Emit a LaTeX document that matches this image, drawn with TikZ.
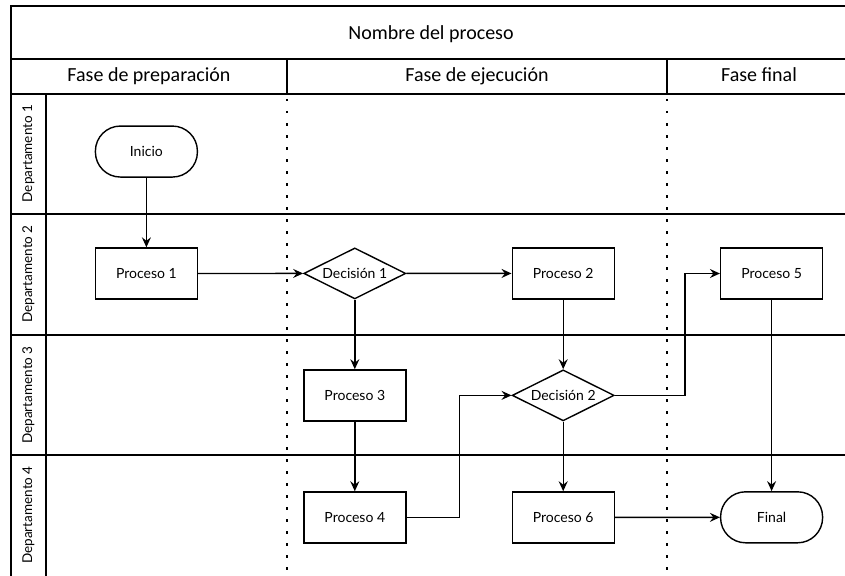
\documentclass[tikz,border=0pt]{standalone}
\usepackage{fontspec}
\setmainfont{Lato}
\newfontfamily\encabezado{Carlito}
\usetikzlibrary{matrix,shapes.geometric,arrows.meta}
\tikzset{
  proc/.style={draw, line width=1.4pt, minimum width=102pt, minimum height=51pt, inner sep=0pt, font=\fontsize{14}{16}\selectfont},
  term/.style={proc, rounded corners=25pt},
  dec/.style={proc, diamond, aspect=2},
  flecha/.style={-{Stealth[length=10pt,width=9pt,inset=3.5pt]}, line width=1.4pt},
  carril/.style={line width=1.4pt},
  fase/.style={font=\encabezado\fontsize{20}{24}\selectfont},
  depto/.style={rotate=90, font=\fontsize{13.5}{16}\selectfont}
}

\begin{document}
\begin{tikzpicture}[x=1pt,y=-1pt]
	\useasboundingbox (0,0) rectangle (845,575);
	% carriles y fases
	\begin{scope}
		\clip (0,0) rectangle (845,575);
		\draw[carril] (11,6) rectangle (851,580);
		\draw[carril] (11,59) -- (851,59);
		\draw[carril] (11,94) -- (851,94);
		\foreach \y in {214,335,455}
			\draw[carril] (11,\y) -- (851,\y);
		\draw[carril] (46,94) -- (46,580);
		\foreach \x in {287,667} {
			\draw[carril] (\x,59) -- (\x,94);
			\draw[carril, dash pattern=on 2.5pt off 9.5pt] (\x,99) -- (\x,580);
		}
	\end{scope}
	\node[fase, anchor=base] (titulo) at (431,40) {Nombre del proceso};
	\node[fase, anchor=base] (f1) at (149,82) {Fase de preparación};
	\node[fase, anchor=base] (f2) at (477,82) {Fase de ejecución};
	\node[fase, anchor=base] (f3) at (759,82) {Fase final};
	\node[depto] (d1) at (28.5,153.5) {Departamento 1};
	\node[depto] (d2) at (28.5,274) {Departamento 2};
	\node[depto] (d3) at (28.5,395) {Departamento 3};
	\node[depto] (d4) at (28.5,515) {Departamento 4};
	% diagrama
	\matrix (m) [matrix of nodes,row sep=69.5pt,column sep=105pt,nodes={proc},ampersand replacement=\&] at (459,334.5)
	{
		|[term]| Inicio \& \& \& \\
		Proceso 1 \& |[dec]| Decisión 1 \& Proceso 2 \& Proceso 5 \\
		\& Proceso 3 \& |[dec]| Decisión 2 \& \\
		\& Proceso 4 \& Proceso 6 \& |[term]| Final \\};
	\path[flecha]
	(m-1-1) edge (m-2-1)
	(m-2-1) edge (m-2-2)
	(m-2-2) edge (m-2-3)
	(m-2-2) edge (m-3-2)
	(m-2-3) edge (m-3-3)
	(m-3-2) edge (m-4-2)
	(m-3-3) edge (m-4-3)
	(m-2-4) edge (m-4-4)
	(m-4-3) edge (m-4-4);
	\draw[flecha] (m-4-2.east) -- ++(53,0) |- (m-3-3.west);
	\draw[flecha] (m-3-3.east) -- ++(70,0) |- (m-2-4.west);
\end{tikzpicture}
\end{document}
